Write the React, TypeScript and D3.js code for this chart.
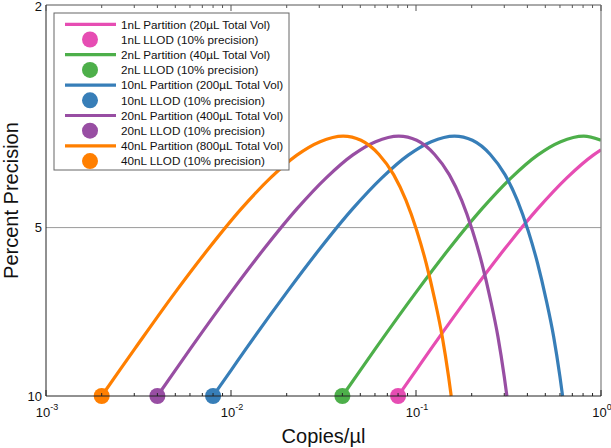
import React from "react";
import * as d3 from "d3";

const W = 611;
const H = 448;

const seriesNames = [
  "1nL Partition (20µL Total Vol)",
  "2nL Partition (40µL Total Vol)",
  "10nL Partition (200µL Total Vol)",
  "20nL Partition (400µL Total Vol)",
  "40nL Partition (800µL Total Vol)",
];
const llodNames = [
  "1nL LLOD (10% precision)",
  "2nL LLOD (10% precision)",
  "10nL LLOD (10% precision)",
  "20nL LLOD (10% precision)",
  "40nL LLOD (10% precision)",
];
const colors = ["#e64db3", "#4daf4a", "#377eb8", "#984ea3", "#ff7f00"];
const llodX = [0.08, 0.04, 0.008, 0.004, 0.002];
const llodY = [10, 10, 10, 10, 10];

const pinkX = [0.08, 0.1009, 0.121, 0.2018, 0.3026, 0.454, 0.6558, 0.908, 1.0];
const pinkY = [10.0, 8.96, 8.22, 6.5, 5.45, 4.63, 4.07, 3.71, 3.63];

const greenX = [0.04, 0.0504, 0.0605, 0.1009, 0.1513, 0.227, 0.3279, 0.454, 0.6052, 0.8072, 1.0];
const greenY = [10.0, 8.96, 8.22, 6.5, 5.45, 4.63, 4.07, 3.71, 3.51, 3.43, 3.49];

const blueX = [0.008, 0.01009, 0.0121, 0.0202, 0.0303, 0.0454, 0.0656, 0.0908, 0.121, 0.1614, 0.2018, 0.2522, 0.3026, 0.3531, 0.4035, 0.454, 0.5044, 0.5549, 0.6, 0.62];
const purpleX = [0.004, 0.00504, 0.00605, 0.01009, 0.01513, 0.0227, 0.0328, 0.0454, 0.0605, 0.0807, 0.1009, 0.1261, 0.1513, 0.1766, 0.2018, 0.227, 0.2522, 0.2774, 0.3, 0.31];
const orangeX = [0.002, 0.00252, 0.00303, 0.00504, 0.00757, 0.01135, 0.0164, 0.0227, 0.0303, 0.0404, 0.0504, 0.0631, 0.0757, 0.0883, 0.1009, 0.1135, 0.1261, 0.1387, 0.15, 0.155];
const fullY = [10.0, 8.96, 8.22, 6.5, 5.45, 4.63, 4.07, 3.71, 3.51, 3.43, 3.49, 3.7, 4.02, 4.47, 5.06, 5.79, 6.71, 7.84, 9.24, 10.0];

const curveX = [pinkX, greenX, blueX, purpleX, orangeX];
const curveY = [pinkY, greenY, fullY, fullY, fullY];

const xTickLabels = ["-3", "-2", "-1", "0"];
const xMajor = [1e-3, 1e-2, 1e-1, 1];
const yTicks = [2, 5, 10];
const yTickLabels = ["2", "5", "10"];

const FONT = "'Liberation Sans', Arial, Helvetica, sans-serif";

export default function App() {
  const L = 46, R = 601, T = 5, B = 396;
  const x = d3.scaleLog().domain([1e-3, 1]).range([L, R]);
  const y = d3.scaleLog().domain([2, 10]).range([T, B]);

  const minor: number[] = [];
  for (let e = -3; e < 0; e++) {
    for (let k = 2; k <= 9; k++) minor.push(k * Math.pow(10, e));
  }

  const line = d3
    .line<[number, number]>()
    .x((d) => x(d[0]))
    .y((d) => y(d[1]))
    .curve(d3.curveMonotoneX);

  const legX = 54, legY = 13, legW = 235, legH = 157;
  const rowY = (i: number) => 24.3 + i * 15.2;

  return (
    <svg width={W} height={H} style={{ position: "absolute", left: 0, top: 0, background: "#fff" }} fontFamily={FONT}>
      <defs>
        <clipPath id="plotclip">
          <rect x={L} y={T - 10} width={R - L} height={B - T + 20} />
        </clipPath>
      </defs>
      <rect x={0} y={0} width={W} height={H} fill="#fff" />
      <line x1={L} x2={R} y1={y(5)} y2={y(5)} stroke="#9a9a9a" strokeWidth={1} />

      <g clipPath="url(#plotclip)">
        {curveX.map((xs, i) => (
          <path
            key={i}
            d={line(xs.map((v, j) => [v, curveY[i][j]] as [number, number])) || ""}
            fill="none"
            stroke={colors[i]}
            strokeWidth={3.2}
          />
        ))}
      </g>
      {llodX.map((v, i) => (
        <circle key={i} cx={x(v)} cy={y(llodY[i])} r={8} fill={colors[i]} />
      ))}

      <line x1={L} x2={R} y1={T} y2={T} stroke="#555" strokeWidth={1} />
      <line x1={R} x2={R} y1={T} y2={B} stroke="#888" strokeWidth={1.3} />
      <line x1={L} x2={L} y1={T} y2={B} stroke="#222" strokeWidth={1} />
      <line x1={L} x2={R} y1={B} y2={B} stroke="#222" strokeWidth={1} />

      {xMajor.map((v, i) => (
        <g key={"M" + i}>
          <line x1={x(v)} x2={x(v)} y1={B} y2={B - 6} stroke="#222" />
          <line x1={x(v)} x2={x(v)} y1={T} y2={T + 6} stroke="#555" />
        </g>
      ))}
      {minor.map((v, i) => (
        <g key={"m" + i}>
          <line x1={x(v)} x2={x(v)} y1={B} y2={B - 3} stroke="#222" />
          <line x1={x(v)} x2={x(v)} y1={T} y2={T + 3} stroke="#555" />
        </g>
      ))}

      {xMajor.map((v, i) => (
        <text key={"xl" + i} x={x(v) + 1} y={417} textAnchor="middle" fontSize={13} fill="#111">
          10
          <tspan dy={-7} fontSize={9}>{xTickLabels[i]}</tspan>
        </text>
      ))}

      {yTicks.map((v, i) => (
        <text key={"yl" + i} x={42} y={Math.max(y(v), 6.5)} dy="0.36em" textAnchor="end" fontSize={13} fill="#111">
          {yTickLabels[i]}
        </text>
      ))}

      <text x={(L + R) / 2} y={443} textAnchor="middle" fontSize={20} fill="#111">
        Copies/µl
      </text>
      <text
        transform={`translate(18,${(T + B) / 2}) rotate(-90)`}
        textAnchor="middle"
        fontSize={20}
        fill="#111"
      >
        Percent Precision
      </text>

      <rect x={legX} y={legY} width={legW} height={legH} fill="#fff" stroke="#666" strokeWidth={1} />
      {seriesNames.map((name, i) => (
        <g key={"lg" + i}>
          <line x1={65} x2={116} y1={rowY(2 * i)} y2={rowY(2 * i)} stroke={colors[i]} strokeWidth={3.2} />
          <text x={121} y={rowY(2 * i)} dy="0.36em" fontSize={11.7} fill="#111">
            {name}
          </text>
          <circle cx={90} cy={rowY(2 * i + 1)} r={8} fill={colors[i]} />
          <text x={121} y={rowY(2 * i + 1)} dy="0.36em" fontSize={11.7} fill="#111">
            {llodNames[i]}
          </text>
        </g>
      ))}
    </svg>
  );
}
